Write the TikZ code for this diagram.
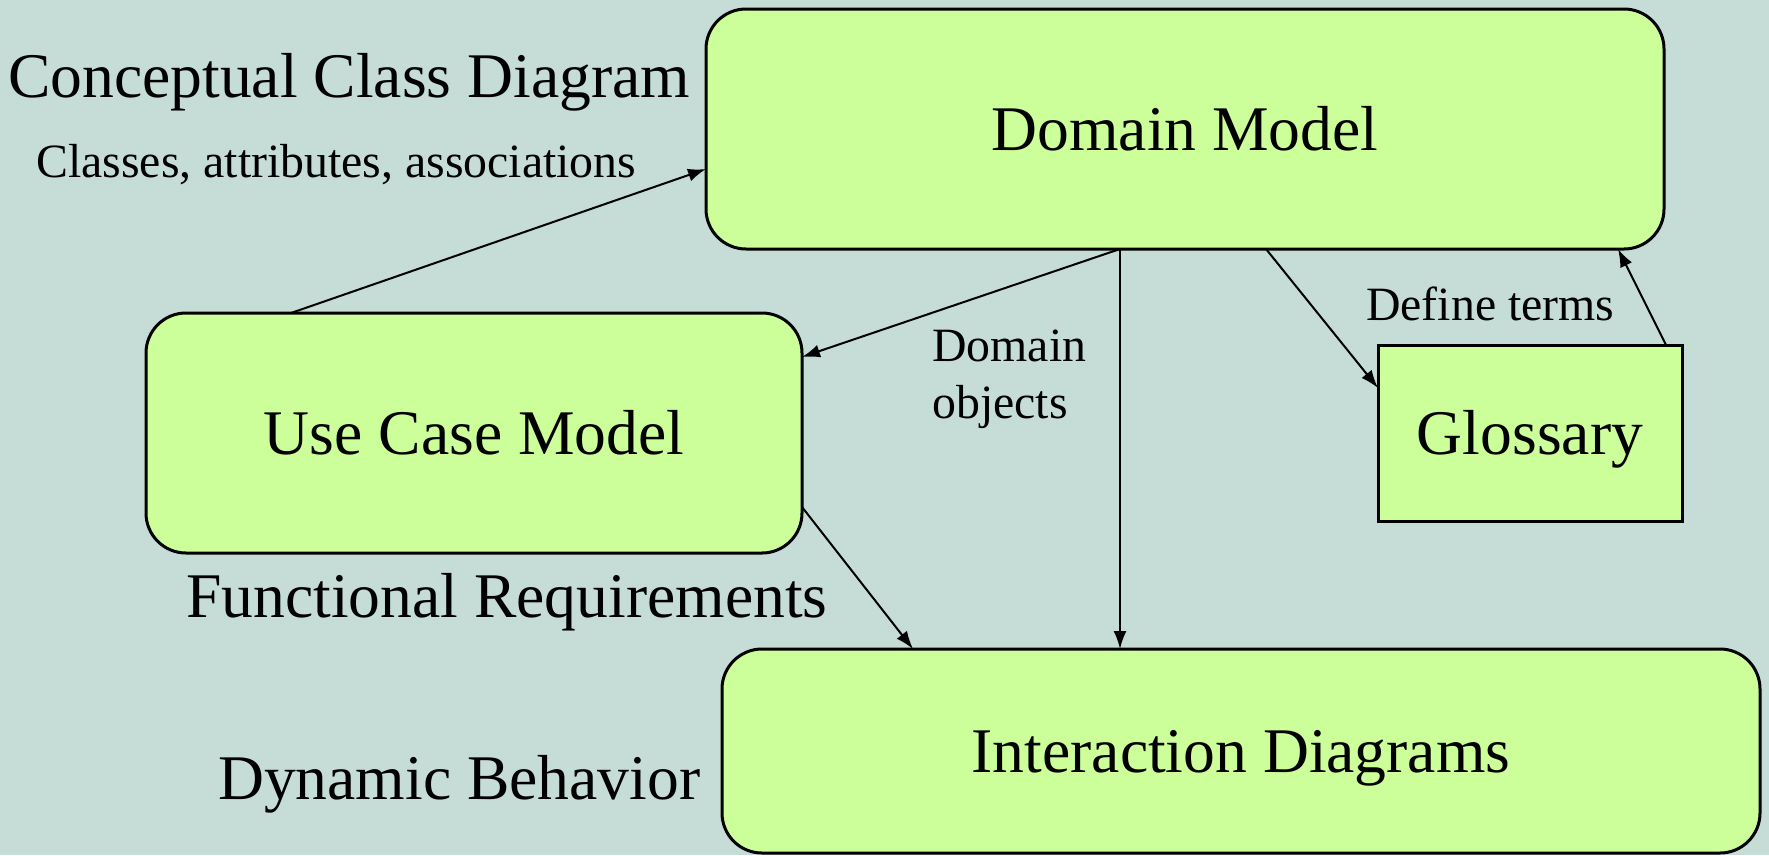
\documentclass[tikz,border=0pt]{standalone}
\usepackage{fontspec}
\setmainfont{Liberation Serif}
\usetikzlibrary{arrows.meta}
\definecolor{bgcol}{RGB}{197,221,214}
\definecolor{boxfill}{RGB}{204,255,153}
\tikzset{
  box/.style={draw=black, line width=3pt, fill=boxfill, inner sep=0pt, outer sep=0pt,
    text height=42pt, text depth=0pt, font=\fontsize{63.6}{76}\selectfont},
  rbox/.style={box, rounded corners=40pt},
  big/.style={inner sep=0pt, font=\fontsize{63.6}{76}\selectfont},
  small/.style={inner sep=0pt, font=\fontsize{47.8}{57.4}\selectfont},
  conn/.style={line width=2pt, -{Latex[length=18pt,width=13pt]}}
}
\begin{document}
\begin{tikzpicture}[x=1pt,y=-1pt]
\fill[bgcol] (0,0) rectangle (1769,855);
\useasboundingbox (0,0) rectangle (1769,855);

\node[rbox, minimum width=958pt, minimum height=240pt] (dm) at (1185,129) {Domain Model};
\node[rbox, minimum width=656pt, minimum height=240pt] (uc) at (474,433) {Use Case Model};
\node[box, minimum width=304pt, minimum height=176pt] (gl) at (1530,433) {Glossary};
\node[rbox, minimum width=1038pt, minimum height=204pt] (id) at (1241,751) {Interaction Diagrams};

\node[big, anchor=base west] (ccd) at (8,97) {Conceptual Class Diagram};
\node[small, anchor=base west] (caa) at (36,177) {Classes, attributes, associations};
\node[small, anchor=base west] (dt) at (1366,320) {Define terms};
\node[small, anchor=base west] (do1) at (932,361) {Domain};
\node[small, anchor=base west] (do2) at (932,418) {objects};
\node[big, anchor=base west] (fr) at (186,617) {Functional Requirements};
\node[big, anchor=base west] (db) at (218,799) {Dynamic Behavior};

\coordinate (dmb) at ([xshift=-65pt]dm.south);
\draw[conn] ([xshift=145pt]uc.north west) -- ([yshift=-40pt]dm.west);
\draw[conn] (dmb) -- ([yshift=-44pt]uc.north east);
\draw[conn] (dmb) -- (dmb |- id.north);
\draw[conn] ([xshift=81pt]dm.south) -- ([yshift=-43pt]gl.north west);
\draw[conn] ([xshift=-16pt]gl.north east) -- ([xshift=-46pt]dm.south east);
\draw[conn] ([yshift=46pt]uc.south east) -- ([xshift=191pt]id.north west);
\end{tikzpicture}
\end{document}
